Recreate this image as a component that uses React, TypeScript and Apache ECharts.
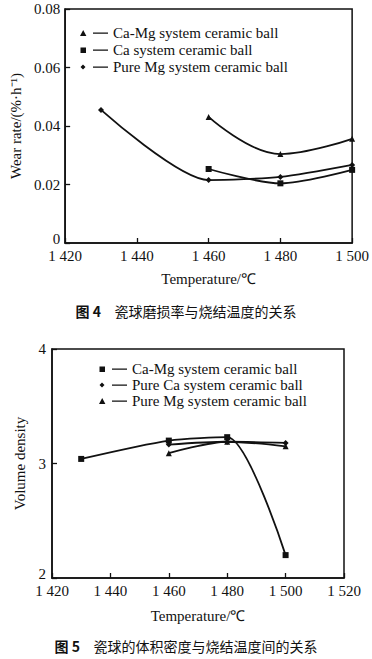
import React, { useEffect, useRef } from "react";
import * as echarts from "echarts";

// Figure 4: wear rate vs sintering temperature
const wearCaMg: [number, number][] = [[1460, 0.0431], [1480, 0.0304], [1500, 0.0356]];
const wearCa: [number, number][] = [[1460, 0.0253], [1480, 0.0204], [1500, 0.025]];
const wearPureMg: [number, number][] = [[1430, 0.0455], [1460, 0.0215], [1480, 0.0226], [1500, 0.0267]];
const wearNames = ["Ca-Mg system ceramic ball", "Ca system ceramic ball", "Pure Mg system ceramic ball"];

// Figure 5: volume density vs sintering temperature
const densCaMg: [number, number][] = [[1430, 3.04], [1460, 3.2], [1480, 3.23], [1500, 2.2]];
const densPureCa: [number, number][] = [[1460, 3.165], [1480, 3.19], [1500, 3.18]];
const densPureMg: [number, number][] = [[1460, 3.09], [1480, 3.19], [1500, 3.15]];
const densNames = ["Ca-Mg system ceramic ball", "Pure Ca system ceramic ball", "Pure Mg system ceramic ball"];

const caption4 = ["图 4", "瓷球磨损率与烧结温度的关系"];
const caption5 = ["图 5", "瓷球的体积密度与烧结温度间的关系"];

const SERIF = "Liberation Serif";
const CJK = "Noto Sans CJK SC";

// legend icons: marker + short dash (28 x 8 box with corner bound points)
const bounds = "M0,0 L0.01,0 L0,0.01 Z M28,8 L27.99,8 L28,7.99 Z";
const dash = "M13,3.4 L28,3.4 L28,4.8 L13,4.8 Z";
const iconTri = "path://" + bounds + " M0,7 L3.2,1 L6.4,7 Z " + dash;
const iconRect = "path://" + bounds + " M0.5,1.5 L6,1.5 L6,7 L0.5,7 Z " + dash;
const iconDia = "path://" + bounds + " M3,1.5 L5.5,4 L3,6.5 L0.5,4 Z " + dash;

const fmtTemp = (v: number) => `${Math.floor(v / 1000)} ${String(v % 1000).padStart(3, "0")}`;

const tickLabel = { color: "#111", fontFamily: SERIF, fontSize: 15 };

function axisCommon() {
  return {
    axisLine: { show: true, onZero: false, lineStyle: { color: "#111", width: 1.5 } },
    axisTick: { show: true, inside: true, length: 5, lineStyle: { color: "#111", width: 1.3 } },
    splitLine: { show: false },
    nameTextStyle: { color: "#111", fontFamily: SERIF, fontSize: 15, fontWeight: "normal" },
  };
}

function lineSeries(name: string, data: [number, number][], symbol: string, idx: number, size: number, smooth: number) {
  return {
    type: "line",
    name,
    data,
    xAxisIndex: idx,
    yAxisIndex: idx,
    symbol,
    symbolSize: size,
    smooth,
    lineStyle: { color: "#111", width: 1.8 },
    itemStyle: { color: "#111" },
    z: 3,
  };
}

// the lowest y label sits slightly above the axis line
function yLabel(minVal: number) {
  return {
    ...tickLabel,
    formatter: (v: number) => (Math.abs(v - minVal) < 1e-9 ? `{lo|${v}}` : `{n|${v}}`),
    rich: {
      n: { fontFamily: SERIF, fontSize: 15, color: "#111" },
      lo: { fontFamily: SERIF, fontSize: 15, color: "#111", padding: [0, 0, 9, 0] },
    },
  };
}

export default function App() {
  const ref = useRef<HTMLDivElement>(null);
  useEffect(() => {
    document.body.style.margin = "0";
    const chart = echarts.init(ref.current!, null, { renderer: "svg" });
    const legendText = { color: "#111", fontFamily: SERIF, fontSize: 15, lineHeight: 16 };
    chart.setOption({
      animation: false,
      backgroundColor: "#fff",
      grid: [
        { left: 57, top: 9, width: 301, height: 234, show: true, borderColor: "#111", borderWidth: 1.5, backgroundColor: "transparent" },
        { left: 52, top: 349, width: 292, height: 229, show: true, borderColor: "#111", borderWidth: 1.5, backgroundColor: "transparent" },
      ],
      xAxis: [
        {
          ...axisCommon(),
          type: "value",
          gridIndex: 0,
          min: 1420,
          max: 1500,
          interval: 20,
          name: "Temperature/℃",
          nameLocation: "middle",
          nameGap: 28,
          axisLabel: { ...tickLabel, margin: 5, formatter: fmtTemp },
        },
        {
          ...axisCommon(),
          type: "value",
          gridIndex: 1,
          min: 1420,
          max: 1520,
          interval: 20,
          name: "Temperature/℃",
          nameLocation: "middle",
          nameGap: 30,
          axisLabel: { ...tickLabel, margin: 5, formatter: fmtTemp },
        },
      ],
      yAxis: [
        {
          ...axisCommon(),
          type: "value",
          gridIndex: 0,
          min: 0,
          max: 0.08,
          interval: 0.02,
          name: "Wear rate/(%·h⁻¹)",
          nameLocation: "middle",
          nameGap: 40,
          axisLabel: { ...yLabel(0), margin: 5 },
        },
        {
          ...axisCommon(),
          type: "value",
          gridIndex: 1,
          min: 2,
          max: 4,
          interval: 1,
          name: "Volume density",
          nameLocation: "middle",
          nameGap: 24,
          axisLabel: { ...yLabel(2), margin: 6 },
        },
      ],
      legend: [
        {
          orient: "vertical",
          left: 75,
          top: 20,
          itemWidth: 28,
          itemHeight: 8,
          itemGap: 1,
          selectedMode: false,
          textStyle: legendText,
          data: [
            { name: wearNames[0], icon: iconTri },
            { name: wearNames[1], icon: iconRect },
            { name: wearNames[2], icon: iconDia },
          ],
        },
        {
          orient: "vertical",
          left: 94,
          top: 356,
          itemWidth: 28,
          itemHeight: 8,
          itemGap: 0,
          selectedMode: false,
          textStyle: legendText,
          data: [
            { name: densNames[0] + " ", icon: iconRect },
            { name: densNames[1], icon: iconDia },
            { name: densNames[2] + " ", icon: iconTri },
          ],
        },
      ],
      series: [
        lineSeries(wearNames[0], wearCaMg, "triangle", 0, 6, 0.4),
        lineSeries(wearNames[1], wearCa, "rect", 0, 6, 0.3),
        lineSeries(wearNames[2], wearPureMg, "diamond", 0, 6, 0.25),
        lineSeries(densNames[0] + " ", densCaMg, "rect", 1, 6, 0.25),
        lineSeries(densNames[1], densPureCa, "diamond", 1, 6, 0.3),
        lineSeries(densNames[2] + " ", densPureMg, "triangle", 1, 6, 0.3),
      ],
      graphic: [
        {
          type: "text",
          left: "center",
          top: 304,
          style: {
            text: `{b|${caption4[0]}}    {n|${caption4[1]}}`,
            rich: {
              b: { fontFamily: CJK, fontSize: 14, fontWeight: "bold", fill: "#111" },
              n: { fontFamily: CJK, fontSize: 14, fill: "#111" },
            },
          },
        },
        {
          type: "text",
          left: "center",
          top: 639,
          style: {
            text: `{b|${caption5[0]}}    {n|${caption5[1]}}`,
            rich: {
              b: { fontFamily: CJK, fontSize: 14, fontWeight: "bold", fill: "#111" },
              n: { fontFamily: CJK, fontSize: 14, fill: "#111" },
            },
          },
        },
      ],
    });
    return () => chart.dispose();
  }, []);
  return <div ref={ref} style={{ position: "absolute", left: 0, top: 0, width: 372, height: 659 }} />;
}
